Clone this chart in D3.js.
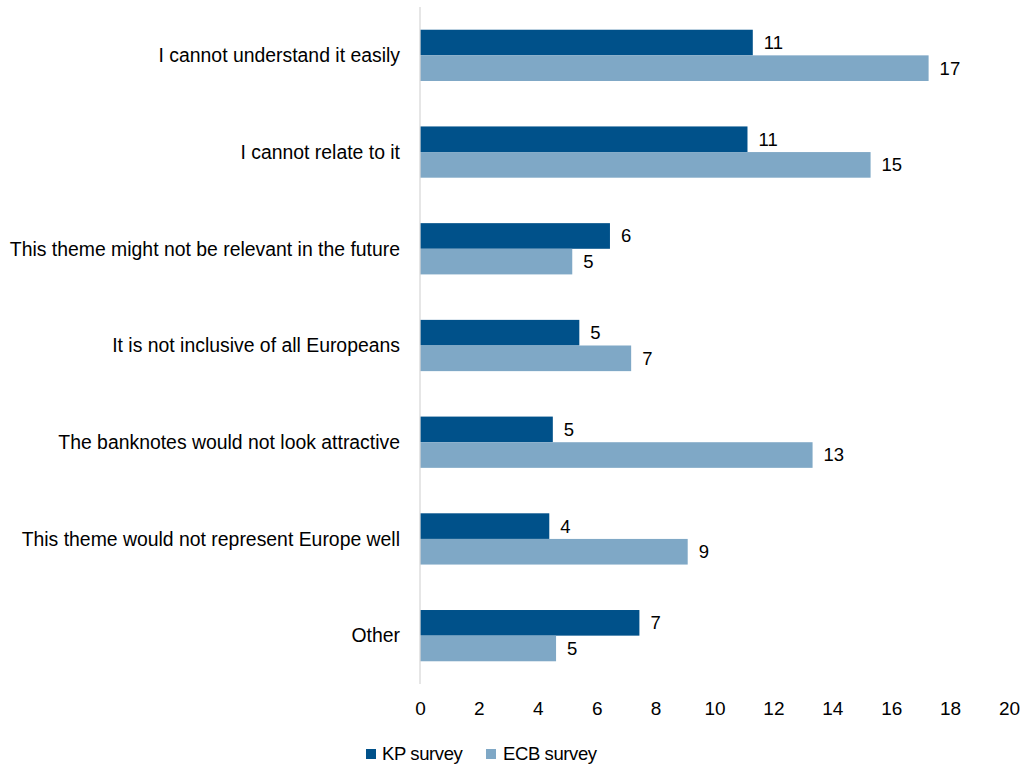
<!DOCTYPE html>
<html>
<head>
<meta charset="utf-8">
<script src="https://cdn.jsdelivr.net/npm/d3@7"></script>
<style>
  html, body { margin: 0; padding: 0; background: #fff; }
  svg { display: block; font-family: "Liberation Sans", Arial, sans-serif; }
</style>
</head>
<body>
<svg id="chart" width="1025" height="767"></svg>
<script>
const categories = [
  "I cannot understand it easily",
  "I cannot relate to it",
  "This theme might not be relevant in the future",
  "It is not inclusive of all Europeans",
  "The banknotes would not look attractive",
  "This theme would not represent Europe well",
  "Other"
];
const seriesNames = ["KP survey", "ECB survey"];
const kpValues  = [11.30, 11.12, 6.45, 5.41, 4.51, 4.39, 7.45];
const ecbValues = [17.27, 15.30, 5.17, 7.17, 13.33, 9.09, 4.62];
const kpLabels  = ["11", "11", "6", "5", "5", "4", "7"];
const ecbLabels = ["17", "15", "5", "7", "13", "9", "5"];
const xTicks = [0, 2, 4, 6, 8, 10, 12, 14, 16, 18, 20];

const colors = { "KP survey": "#00518A", "ECB survey": "#7FA8C6" };

const svg = d3.select("#chart");
const plotLeft = 420, plotRight = 1009, plotTop = 7, plotBottom = 684;

const x = d3.scaleLinear().domain([0, 20]).range([plotLeft, plotRight]);
const y = d3.scaleBand().domain(categories).range([plotTop, plotBottom])
  .paddingInner(0.47).paddingOuter(0.235);
const ySub = d3.scaleBand().domain(seriesNames).range([0, y.bandwidth()]);

const rows = categories.map((c, i) => ({
  cat: c,
  series: [
    { name: "KP survey", value: kpValues[i], label: kpLabels[i] },
    { name: "ECB survey", value: ecbValues[i], label: ecbLabels[i] }
  ]
}));

// bars
const g = svg.append("g");
const groups = g.selectAll("g.cat").data(rows).join("g")
  .attr("class", "cat")
  .attr("transform", d => `translate(0,${y(d.cat)})`);

groups.selectAll("rect").data(d => d.series).join("rect")
  .attr("x", x(0))
  .attr("y", d => ySub(d.name))
  .attr("width", d => x(d.value) - x(0))
  .attr("height", ySub.bandwidth())
  .attr("fill", d => colors[d.name]);

groups.selectAll("text.val").data(d => d.series).join("text")
  .attr("class", "val")
  .attr("x", d => x(d.value) + 11)
  .attr("y", d => ySub(d.name) + ySub.bandwidth() / 2)
  .attr("dy", "0.35em")
  .attr("font-size", 18.5)
  .attr("fill", "#000")
  .text(d => d.label);

// vertical axis line (category axis)
svg.append("line")
  .attr("x1", x(0)).attr("x2", x(0))
  .attr("y1", plotTop).attr("y2", plotBottom)
  .attr("stroke", "#d9d9d9").attr("stroke-width", 1.3);

// category labels
svg.append("g").selectAll("text").data(categories).join("text")
  .attr("x", 400)
  .attr("y", d => y(d) + y.bandwidth() / 2)
  .attr("dy", "0.35em")
  .attr("text-anchor", "end")
  .attr("font-size", 19.4)
  .attr("fill", "#000")
  .text(d => d);

// x axis
const xAxis = d3.axisBottom(x).tickValues(xTicks).tickSize(0).tickPadding(0);
const ax = svg.append("g")
  .attr("transform", `translate(0,${plotBottom + 17})`)
  .call(xAxis);
ax.select(".domain").remove();
ax.selectAll("text")
  .attr("font-size", 19)
  .attr("font-family", "Liberation Sans, Arial, sans-serif")
  .attr("fill", "#000");

// legend
const legendItems = [
  { name: "KP survey", sx: 366, tx: 382 },
  { name: "ECB survey", sx: 486, tx: 503 }
];
const lg = svg.append("g");
lg.selectAll("rect").data(legendItems).join("rect")
  .attr("x", d => d.sx).attr("y", 749)
  .attr("width", 10).attr("height", 10)
  .attr("fill", d => colors[d.name]);
lg.selectAll("text").data(legendItems).join("text")
  .attr("x", d => d.tx).attr("y", 754)
  .attr("dy", "0.35em")
  .attr("font-size", 18.5)
  .attr("letter-spacing", "-0.4px")
  .attr("fill", "#000")
  .text(d => d.name);
</script>
</body>
</html>
